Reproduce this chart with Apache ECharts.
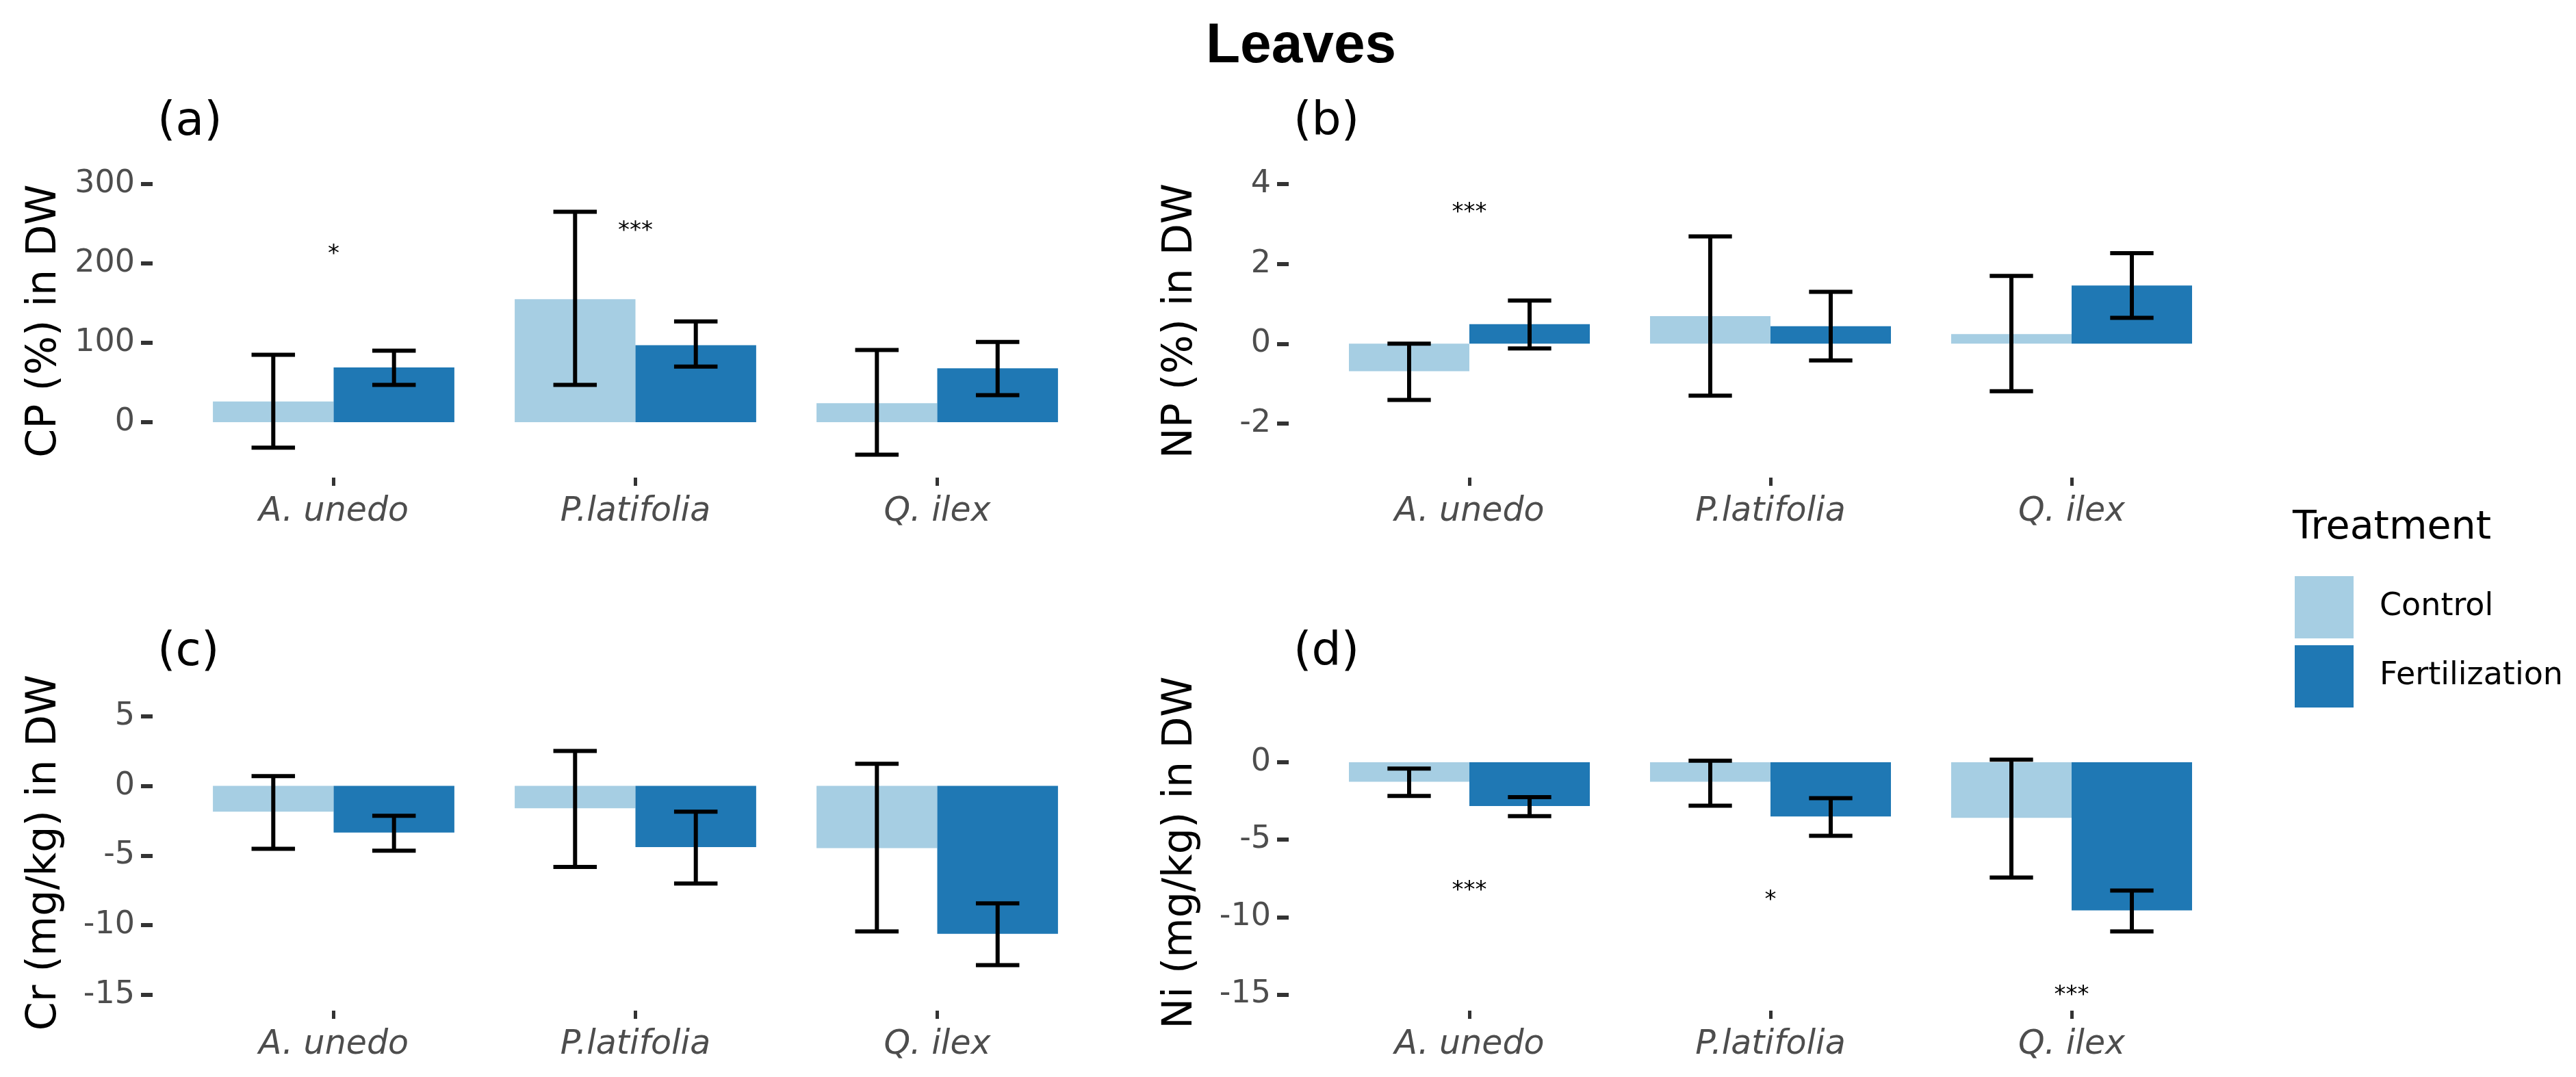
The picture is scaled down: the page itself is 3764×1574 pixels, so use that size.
<!DOCTYPE html>
<html>
<head>
<meta charset="utf-8">
<title>Leaves</title>
<script src="https://cdn.jsdelivr.net/npm/echarts@6/dist/echarts.min.js"></script>
<style>
  html, body { margin: 0; padding: 0; background: #fff; }
  #chart { width: 3764px; height: 1574px; }
</style>
</head>
<body>
<div id="chart"></div>
<script>
// species on the x axis of every panel
const categories = ['A. unedo', 'P.latifolia', 'Q. ilex'];

// (a) CP (%) in DW
const cpControl = [26, 155, 24];
const cpControlLow = [-32, 47, -41];
const cpControlHigh = [85, 265, 91];
const cpFert = [69, 97, 68];
const cpFertLow = [47, 70, 34];
const cpFertHigh = [90, 127, 101];
const cpTicks = [0, 100, 200, 300];
const cpSig = ['*', '***', ''];
const cpSigY = [217, 246, null];

// (b) NP (%) in DW
const npControl = [-0.69, 0.69, 0.24];
const npControlLow = [-1.41, -1.30, -1.19];
const npControlHigh = [0.0, 2.69, 1.70];
const npFert = [0.49, 0.44, 1.46];
const npFertLow = [-0.12, -0.42, 0.65];
const npFertHigh = [1.08, 1.30, 2.27];
const npTicks = [-2, 0, 2, 4];
const npSig = ['***', '', ''];
const npSigY = [3.40, null, null];

// (c) Cr (mg/kg) in DW
const crControl = [-1.85, -1.60, -4.47];
const crControlLow = [-4.52, -5.82, -10.46];
const crControlHigh = [0.71, 2.51, 1.59];
const crFert = [-3.35, -4.40, -10.63];
const crFertLow = [-4.65, -7.02, -12.88];
const crFertHigh = [-2.15, -1.85, -8.44];
const crTicks = [-15, -10, -5, 0, 5];
const crSig = ['', '', ''];
const crSigY = [null, null, null];

// (d) Ni (mg/kg) in DW
const niControl = [-1.26, -1.26, -3.59];
const niControlLow = [-2.18, -2.81, -7.44];
const niControlHigh = [-0.41, 0.10, 0.17];
const niFert = [-2.83, -3.50, -9.57];
const niFertLow = [-3.48, -4.75, -10.93];
const niFertHigh = [-2.25, -2.32, -8.29];
const niTicks = [-15, -10, -5, 0];
const niSig = ['***', '*', '***'];
const niSigY = [-8.0, -8.63, -14.78];

const CONTROL_COLOR = '#a6cee3';
const FERT_COLOR = '#1f78b4';
const FONT = 'DejaVu Sans';

const panels = [
  { tag: '(a)', name: 'CP (%) in DW', grid: { left: 267, top: 240, width: 1323, height: 458 }, min: -69.8, max: 325,
    ticks: cpTicks, ctrl: cpControl, ctrlLo: cpControlLow, ctrlHi: cpControlHigh,
    fert: cpFert, fertLo: cpFertLow, fertHi: cpFertHigh, sig: cpSig, sigY: cpSigY },
  { tag: '(b)', name: 'NP (%) in DW', grid: { left: 1927, top: 240, width: 1320, height: 458 }, min: -3.355, max: 4.497,
    ticks: npTicks, ctrl: npControl, ctrlLo: npControlLow, ctrlHi: npControlHigh,
    fert: npFert, fertLo: npFertLow, fertHi: npFertHigh, sig: npSig, sigY: npSigY },
  { tag: '(c)', name: 'Cr (mg/kg) in DW', grid: { left: 267, top: 1015, width: 1323, height: 462 }, min: -16.15, max: 6.57,
    ticks: crTicks, ctrl: crControl, ctrlLo: crControlLow, ctrlHi: crControlHigh,
    fert: crFert, fertLo: crFertLow, fertHi: crFertHigh, sig: crSig, sigY: crSigY },
  { tag: '(d)', name: 'Ni (mg/kg) in DW', grid: { left: 1927, top: 1015, width: 1320, height: 462 }, min: -16.04, max: 4.375,
    ticks: niTicks, ctrl: niControl, ctrlLo: niControlLow, ctrlHi: niControlHigh,
    fert: niFert, fertLo: niFertLow, fertHi: niFertHigh, sig: niSig, sigY: niSigY }
];

// error bar drawn at the centre of the dodged bar (side -1 = control, +1 = fertilization)
function errorBarItem(side) {
  return function (params, api) {
    const band = api.size([1, 0])[0];
    const dx = side * band * 0.2;
    const lo = api.coord([api.value(0), api.value(1)]);
    const hi = api.coord([api.value(0), api.value(2)]);
    const x = lo[0] + dx;
    const cap = band * 0.072;
    const style = { stroke: '#000', lineWidth: 6 };
    return {
      type: 'group',
      children: [
        { type: 'line', shape: { x1: x, y1: lo[1], x2: x, y2: hi[1] }, style: style },
        { type: 'line', shape: { x1: x - cap, y1: lo[1], x2: x + cap, y2: lo[1] }, style: style },
        { type: 'line', shape: { x1: x - cap, y1: hi[1], x2: x + cap, y2: hi[1] }, style: style }
      ]
    };
  };
}

const grids = [], xAxes = [], yAxes = [], series = [];
const titles = [{
  text: 'Leaves', left: 1762, top: 27, padding: 0,
  textStyle: { fontFamily: 'Liberation Sans', fontWeight: 'bold', fontSize: 82, color: '#000' }
}];

panels.forEach(function (p, k) {
  grids.push(p.grid);
  titles.push({
    text: p.tag, left: p.grid.left - 37, top: p.grid.top - 95, padding: 0,
    textStyle: { fontFamily: FONT, fontWeight: 'normal', fontSize: 68, color: '#000' }
  });
  xAxes.push({
    type: 'category', gridIndex: k, data: categories,
    axisLine: { show: false, onZero: false },
    axisTick: { show: true, alignWithLabel: true, length: 12, lineStyle: { color: '#333', width: 5 } },
    axisLabel: { fontFamily: FONT, fontStyle: 'italic', fontSize: 49, color: '#4d4d4d', margin: 26 },
    splitLine: { show: false }
  });
  yAxes.push({
    type: 'value', gridIndex: k, min: p.min, max: p.max, offset: 44,
    axisLine: { show: false },
    axisTick: { show: true, length: 17, lineStyle: { color: '#333', width: 6 }, customValues: p.ticks },
    axisLabel: { fontFamily: FONT, fontSize: 46, color: '#4d4d4d', margin: 26, customValues: p.ticks },
    splitLine: { show: false },
    name: p.name, nameLocation: 'middle', nameRotate: 90, nameGap: 128,
    nameTextStyle: { fontFamily: FONT, fontSize: 60, color: '#000' }
  });
  series.push({
    name: 'Control', type: 'bar', xAxisIndex: k, yAxisIndex: k, data: p.ctrl,
    barGap: '0%', barCategoryGap: '20%', itemStyle: { color: CONTROL_COLOR }
  });
  series.push({
    name: 'Fertilization', type: 'bar', xAxisIndex: k, yAxisIndex: k, data: p.fert,
    barGap: '0%', barCategoryGap: '20%', itemStyle: { color: FERT_COLOR }
  });
  series.push({
    type: 'custom', xAxisIndex: k, yAxisIndex: k, z: 5, silent: true,
    renderItem: errorBarItem(-1), encode: { x: 0, y: [1, 2] },
    data: p.ctrl.map(function (v, i) { return [i, p.ctrlLo[i], p.ctrlHi[i]]; })
  });
  series.push({
    type: 'custom', xAxisIndex: k, yAxisIndex: k, z: 5, silent: true,
    renderItem: errorBarItem(1), encode: { x: 0, y: [1, 2] },
    data: p.fert.map(function (v, i) { return [i, p.fertLo[i], p.fertHi[i]]; })
  });
  const sigData = [], sigText = [];
  p.sig.forEach(function (s, i) {
    if (s) { sigData.push([i, p.sigY[i]]); sigText.push(s); }
  });
  if (sigData.length) {
    series.push({
      type: 'custom', xAxisIndex: k, yAxisIndex: k, z: 6, silent: true,
      encode: { x: 0, y: 1 }, data: sigData,
      renderItem: function (params, api) {
        const pt = api.coord([api.value(0), api.value(1)]);
        return {
          type: 'text', x: pt[0], y: pt[1] + 7,
          style: { text: sigText[params.dataIndex], fontFamily: FONT, fontSize: 34, fill: '#000',
                   align: 'center', verticalAlign: 'middle' }
        };
      }
    });
  }
});

titles.push({
  text: 'Treatment', left: 3350, top: 744, padding: 0,
  textStyle: { fontFamily: FONT, fontWeight: 'normal', fontSize: 57, color: '#000' }
});

const myChart = echarts.init(document.getElementById('chart'));
myChart.setOption({
  animation: false,
  backgroundColor: '#fff',
  title: titles,
  legend: {
    data: ['Control', 'Fertilization'], orient: 'vertical', left: 3353, top: 842, padding: 0,
    icon: 'rect', itemWidth: 86, itemHeight: 91, itemGap: 10,
    textStyle: { fontFamily: FONT, fontSize: 46, color: '#000', padding: [0, 0, 0, 33] }
  },
  grid: grids,
  xAxis: xAxes,
  yAxis: yAxes,
  series: series
});
</script>
</body>
</html>
